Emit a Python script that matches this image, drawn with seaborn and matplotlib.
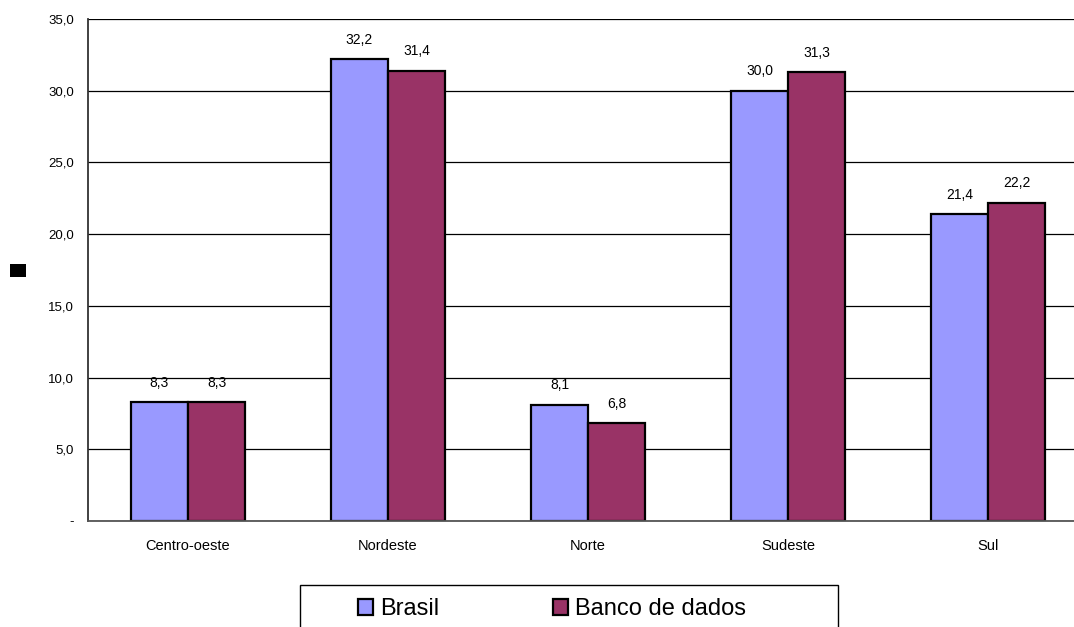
import matplotlib
matplotlib.use("Agg")
import matplotlib.pyplot as plt
from matplotlib.patches import Rectangle
from matplotlib.ticker import FuncFormatter, FixedLocator
import seaborn as sns
import pandas as pd

# Distribution by region (%)
regioes = ["Centro-oeste", "Nordeste", "Norte", "Sudeste", "Sul"]
brasil = [8.3, 32.2, 8.1, 30.0, 21.4]
banco_de_dados = [8.3, 31.4, 6.8, 31.3, 22.2]
series = ["Brasil", "Banco de dados"]
cores = ["#9999FF", "#993366"]

df = pd.DataFrame({
    "regiao": regioes * 2,
    "valor": brasil + banco_de_dados,
    "serie": [series[0]] * len(regioes) + [series[1]] * len(regioes),
})

sns.set_style("white")
plt.rcParams["font.family"] = ["Liberation Sans", "DejaVu Sans"]
plt.rcParams["text.color"] = "black"
plt.rcParams["xtick.color"] = "black"
plt.rcParams["ytick.color"] = "black"

W, H = 1074, 627
fig = plt.figure(figsize=(W / 100, H / 100), dpi=100)
ax = fig.add_axes([88 / W, 1 - 521 / H, 1000 / W, (521 - 19) / H])

sns.barplot(data=df, x="regiao", y="valor", hue="serie", order=regioes,
            hue_order=series, palette=cores, width=0.57, edgecolor="black",
            linewidth=1.6, ax=ax, legend=True, saturation=1)

ax.set_xlim(-0.5, len(regioes) - 0.5)
ax.set_ylim(0, 35)
ax.set_yticks([0, 5, 10, 15, 20, 25, 30, 35])
ax.yaxis.set_major_formatter(FuncFormatter(
    lambda v, _: "-" if v == 0 else f"{v:.1f}".replace(".", ",")))
ax.tick_params(axis="y", direction="out", length=6, width=1, color="black",
               labelsize=9.5, pad=4)
ax.tick_params(axis="x", which="major", length=0, labelsize=10.5, pad=13)
ax.xaxis.set_minor_locator(FixedLocator([i - 0.5 for i in range(len(regioes) + 1)]))
ax.tick_params(axis="x", which="minor", direction="out", length=5, width=1, color="black")
ax.set_xlabel("")
ax.set_ylabel("")

ax.yaxis.grid(True, color="black", linewidth=0.9)
ax.set_axisbelow(True)
for s in ["top", "right"]:
    ax.spines[s].set_visible(False)
ax.spines["left"].set_color("#333333")
ax.spines["left"].set_linewidth(1.3)
ax.spines["bottom"].set_color("#555555")
ax.spines["bottom"].set_linewidth(1.3)

# value labels above each bar
for cont in ax.containers:
    for bar in cont:
        h = bar.get_height()
        ax.annotate(f"{h:.1f}".replace(".", ","),
                    (bar.get_x() + bar.get_width() / 2, h),
                    xytext=(0, 14), textcoords="offset points",
                    ha="center", va="center", fontsize=10, color="black")

# legend below the plot
handles, labels = ax.get_legend_handles_labels()
ax.get_legend().remove()
leg = fig.legend(handles, labels, ncol=2, frameon=False, fontsize=17,
                 loc="center left", bbox_to_anchor=(358 / W, 1 - 609 / H),
                 bbox_transform=fig.transFigure, handlelength=0.65,
                 handleheight=0.65, handletextpad=0.3, columnspacing=4.8,
                 borderpad=0, borderaxespad=0)
for hnd in leg.legend_handles:
    hnd.set_edgecolor("black")
    hnd.set_linewidth(1.6)
for t in leg.get_texts():
    t.set_color("black")

fig.patches.append(Rectangle((300 / W, -0.05), 538 / W, 0.05 + 1 - 585 / H,
                             transform=fig.transFigure, fill=False,
                             edgecolor="black", linewidth=1, zorder=0))
fig.patches.append(Rectangle((10 / W, 1 - 277 / H), 16 / W, 13 / H,
                             transform=fig.transFigure, facecolor="black",
                             edgecolor="none"))

fig.savefig("out.png", dpi=100)
